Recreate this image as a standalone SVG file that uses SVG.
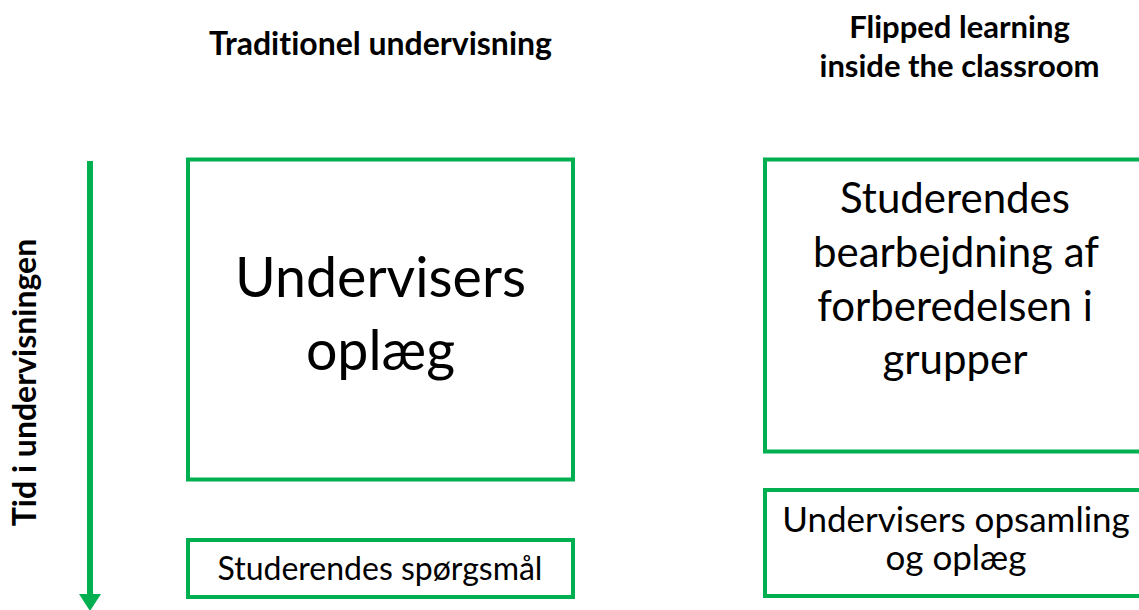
<svg xmlns="http://www.w3.org/2000/svg" width="1139" height="610" viewBox="0 0 1139 610">
<style>
.box{fill:#fff;stroke:#00B050;stroke-width:4}
.t{font-family:Lato,"Open Sans",sans-serif;fill:#000;text-anchor:middle;font-variant-ligatures:none}
.b{font-weight:bold}
</style>
<rect width="1139" height="610" fill="#fff"/>
<text class="t b" x="380.5" y="55" font-size="32">Traditionel undervisning</text>
<text class="t b" x="959.5" y="38" font-size="31">Flipped learning</text>
<text class="t b" x="959.5" y="77" font-size="31">inside the classroom</text>
<text class="t b" font-size="32" transform="translate(36,382.5) rotate(-90)">Tid i undervisningen</text>
<g id="connectors">
<line x1="90" y1="161" x2="90" y2="596" stroke="#00B050" stroke-width="6"/>
<polygon points="79,594 101,594 90,611" fill="#00B050"/>
</g>
<g id="n1">
<rect class="box" x="188" y="159.5" width="385" height="320"/>
<text class="t" x="380.5" y="297" font-size="55.5">Undervisers</text>
<text class="t" x="380.5" y="370" font-size="55.5">oplæg</text>
</g>
<g id="n2">
<rect class="box" x="188" y="540" width="385" height="57"/>
<text class="t" x="380" y="580" font-size="32">Studerendes spørgsmål</text>
</g>
<g id="n3">
<rect class="box" x="765" y="159.5" width="385" height="292"/>
<text class="t" x="955" y="213" font-size="42">Studerendes</text>
<text class="t" x="956" y="267" font-size="42">bearbejdning af</text>
<text class="t" x="955" y="321" font-size="42">forberedelsen i</text>
<text class="t" x="955" y="374" font-size="42">grupper</text>
</g>
<g id="n4">
<rect class="box" x="765" y="490" width="385" height="106"/>
<text class="t" x="956" y="532" font-size="35">Undervisers opsamling</text>
<text class="t" x="956" y="570" font-size="35">og oplæg</text>
</g>
</svg>
